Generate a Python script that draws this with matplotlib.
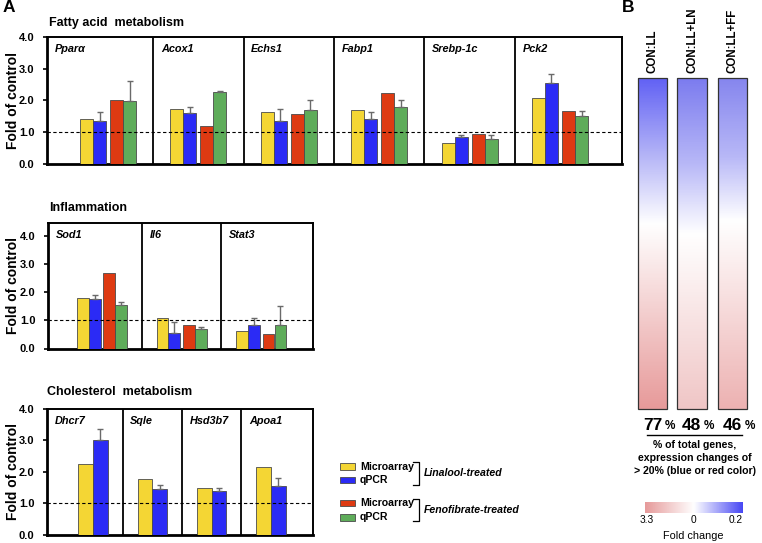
import numpy as np
import matplotlib
matplotlib.use("Agg")
import matplotlib.pyplot as plt
from matplotlib.colors import LinearSegmentedColormap

plt.rcParams['font.family'] = ['Liberation Sans', 'DejaVu Sans']

# ---------------- data ----------------
fa_genes = ['Pparα', 'Acox1', 'Echs1', 'Fabp1', 'Srebp-1c', 'Pck2']
fa_lin_micro = [1.41, 1.73, 1.63, 1.71, 0.65, 2.08]
fa_lin_qpcr = [1.37, 1.61, 1.35, 1.41, 0.84, 2.56]
fa_lin_qpcr_err = [0.26, 0.20, 0.38, 0.23, 0.07, 0.29]
fa_fen_micro = [2.00, 1.20, 1.56, 2.25, 0.93, 1.68]
fa_fen_qpcr = [1.97, 2.28, 1.71, 1.79, 0.79, 1.51]
fa_fen_qpcr_err = [0.65, 0.02, 0.30, 0.22, 0.13, 0.15]

inf_genes = ['Sod1', 'Il6', 'Stat3']
inf_lin_micro = [1.80, 1.08, 0.62]
inf_lin_qpcr = [1.76, 0.55, 0.82]
inf_lin_qpcr_err = [0.13, 0.38, 0.25]
inf_fen_micro = [2.68, 0.85, 0.52]
inf_fen_qpcr = [1.56, 0.71, 0.85]
inf_fen_qpcr_err = [0.09, 0.07, 0.65]

chol_genes = ['Dhcr7', 'Sqle', 'Hsd3b7', 'Apoa1']
chol_lin_micro = [2.24, 1.77, 1.49, 2.16]
chol_lin_qpcr = [3.01, 1.44, 1.39, 1.56]
chol_lin_qpcr_err = [0.34, 0.13, 0.11, 0.23]

y_ticks = [0, 1, 2, 3, 4]
y_ticklabels = ['0.0', '1.0', '2.0', '3.0', '4.0']

legend_labels = ['Microarray', 'qPCR', 'Microarray', 'qPCR']
treatments = ['Linalool-treated', 'Fenofibrate-treated']

b_columns = ['CON:LL', 'CON:LL+LN', 'CON:LL+FF']
b_percent = [77, 48, 46]
b_top_colors = ['#6262f4', '#7c7cef', '#8686ee']
b_white_pos = [0.44, 0.47, 0.43]
b_bottom_colors = ['#e79a9a', '#f0c6c6', '#edb2b2']
cbar_ticklabels = ['3.3', '0', '0.2']

C_Y = '#F4D634'
C_B = '#2B2BF5'
C_R = '#DE3A12'
C_G = '#5EAC5A'
EDGE = '#4a4a4a'
ERRC = '#6a6a6a'

W, H = 762, 543
fig = plt.figure(figsize=(W / 100, H / 100), dpi=100)


def fig_rect(x0, y0, x1, y1):
    return [x0 / W, 1 - y1 / H, (x1 - x0) / W, (y1 - y0) / H]


def panel(rect, genes, series, errs, offsets, width, xlim, ylim, colors):
    ax = fig.add_axes(rect)
    n = len(genes)
    x = np.arange(n)
    for vals, err, off, col in zip(series, errs, offsets, colors):
        kw = {}
        if err is not None:
            kw = dict(yerr=[np.zeros(n), err], error_kw=dict(ecolor=ERRC, elinewidth=1.0,
                                                             capsize=2.5, capthick=1.0))
        ax.bar(x + off, vals, width, color=col, edgecolor=EDGE, linewidth=0.6, zorder=3, **kw)
    ax.set_xlim(*xlim)
    ax.set_ylim(*ylim)
    ax.axhline(1.0, color='black', lw=0.8, ls=(0, (3, 2.2)), zorder=4)
    for i in range(n - 1):
        ax.axvline(i + 0.5, color='black', lw=1.3, zorder=5)
    for i, g in enumerate(genes):
        left = xlim[0] if i == 0 else i - 0.5
        ax.annotate(g, xy=(left, 1), xycoords=('data', 'axes fraction'),
                    xytext=(5.5, -5), textcoords='offset points', ha='left', va='top',
                    fontsize=7.8, fontweight='bold', fontstyle='italic')
    ax.set_xticks([])
    ax.set_yticks(y_ticks)
    ax.set_yticklabels(y_ticklabels, fontsize=8, fontweight='bold')
    ax.tick_params(axis='y', direction='out', length=3, width=1.2, pad=6)
    for s in ['left', 'bottom']:
        ax.spines[s].set_linewidth(2.0)
    for s in ['top', 'right']:
        ax.spines[s].set_linewidth(1.4)
    ax.set_ylabel('Fold of control', fontsize=10, fontweight='bold')
    # place label so its centre sits near x = 14 px in the figure
    x0_px = rect[0] * W
    w_px = rect[2] * W
    ax.yaxis.set_label_coords((20 - x0_px) / w_px, 0.5)
    return ax


off4 = [-0.238, -0.094, 0.094, 0.238]
ax1 = panel(fig_rect(47, 37, 622, 164), fa_genes,
            [fa_lin_micro, fa_lin_qpcr, fa_fen_micro, fa_fen_qpcr],
            [None, fa_lin_qpcr_err, None, fa_fen_qpcr_err],
            off4, 0.144, (-0.675, 5.686), (0, 4), [C_Y, C_B, C_R, C_G])
ax2 = panel(fig_rect(48, 222.7, 313, 348.5), inf_genes,
            [inf_lin_micro, inf_lin_qpcr, inf_fen_micro, inf_fen_qpcr],
            [None, inf_lin_qpcr_err, None, inf_fen_qpcr_err],
            [-0.24, -0.093, 0.09, 0.24], 0.147, (-0.68, 2.65), (0, 4.47), [C_Y, C_B, C_R, C_G])
ax3 = panel(fig_rect(47, 409, 313, 534.7), chol_genes,
            [chol_lin_micro, chol_lin_qpcr],
            [None, chol_lin_qpcr_err],
            [-0.124, 0.124], 0.248, (-0.776, 3.708), (0, 4), [C_Y, C_B])

# ---------------- overlay (pixel coordinates) ----------------
ov = fig.add_axes([0, 0, 1, 1])
ov.set_facecolor('none')
ov.axis('off')

ov.text(3, 8, 'A', fontsize=12.5, fontweight='bold', va='center', ha='left')
ov.text(622, 8, 'B', fontsize=12.5, fontweight='bold', va='center', ha='left')
ov.text(49, 23, 'Fatty acid  metabolism', fontsize=9, fontweight='bold', va='center')
ov.text(49, 208, 'Inflammation', fontsize=9, fontweight='bold', va='center')
ov.text(47, 392, 'Cholesterol  metabolism', fontsize=9, fontweight='bold', va='center')

# legend
leg_colors = [C_Y, C_B, C_R, C_G]
leg_y = [466.5, 480, 503, 517.5]
for c, yy, lab in zip(leg_colors, leg_y, legend_labels):
    ov.add_patch(plt.Rectangle((340, yy - 3.3), 15, 6.6, facecolor=c, edgecolor=EDGE, lw=0.6))
    ov.text(360, yy, lab, fontsize=7.6, fontweight='bold', va='center', ha='left')
for (ya, yb), lab in zip([(462, 485), (499, 521)], treatments):
    ov.plot([413, 418.5, 418.5, 413], [ya, ya, yb, yb], color='black', lw=0.9)
    ov.text(424, (ya + yb) / 2, lab, fontsize=7.6, fontweight='bold', fontstyle='italic',
            va='center', ha='left')

# panel B gradient columns
bar_x = [(638, 667), (677, 707), (718, 747)]
grad = np.linspace(0, 1, 400).reshape(-1, 1)
for (x0, x1), tc, wp, bc, lab in zip(bar_x, b_top_colors, b_white_pos, b_bottom_colors, b_columns):
    cm = LinearSegmentedColormap.from_list('c', [(0, tc), (wp * 0.55, '#b8b8f7'),
                                                 (wp, '#ffffff'), (1, bc)])
    ov.imshow(grad, cmap=cm, extent=(x0, x1, 409, 78), origin='upper', aspect='auto',
              interpolation='bilinear', zorder=2)
    ov.add_patch(plt.Rectangle((x0, 78), x1 - x0, 331, facecolor='none',
                               edgecolor='#333333', lw=0.9, zorder=3))
    ov.text((x0 + x1) / 2, 73, lab, rotation=90, fontsize=8.3, fontweight='bold',
            ha='center', va='bottom')

num_x = [643, 682, 723]
pct_x = [665, 704, 745]
for nx, px, p in zip(num_x, pct_x, b_percent):
    ov.text(nx, 425, str(p), fontsize=12.5, fontweight='bold', ha='left', va='center')
    ov.text(px, 426, '%', fontsize=8.5, fontweight='bold', ha='left', va='center')
ov.plot([647, 742], [435, 435], color='black', lw=1.0)
for yy, t in zip([445, 458, 471], ['% of total genes,', 'expression changes of',
                                    '> 20% (blue or red color)']):
    ov.text(695, yy, t, fontsize=7.6, fontweight='bold', ha='center', va='center')

cb_cmap = LinearSegmentedColormap.from_list('cb', ['#e69a9a', '#ffffff', '#4848f4'])
ov.imshow(np.linspace(0, 1, 300).reshape(1, -1), cmap=cb_cmap, extent=(645, 743, 513, 502),
          origin='upper', aspect='auto', interpolation='bilinear')
for xx, t in zip([647, 693, 736], cbar_ticklabels):
    ov.text(xx, 520, t, fontsize=7.3, ha='center', va='center')
ov.text(693, 536, 'Fold change', fontsize=7.8, ha='center', va='center')

ov.set_xlim(0, W)
ov.set_ylim(H, 0)

fig.savefig('out.png', dpi=100)
